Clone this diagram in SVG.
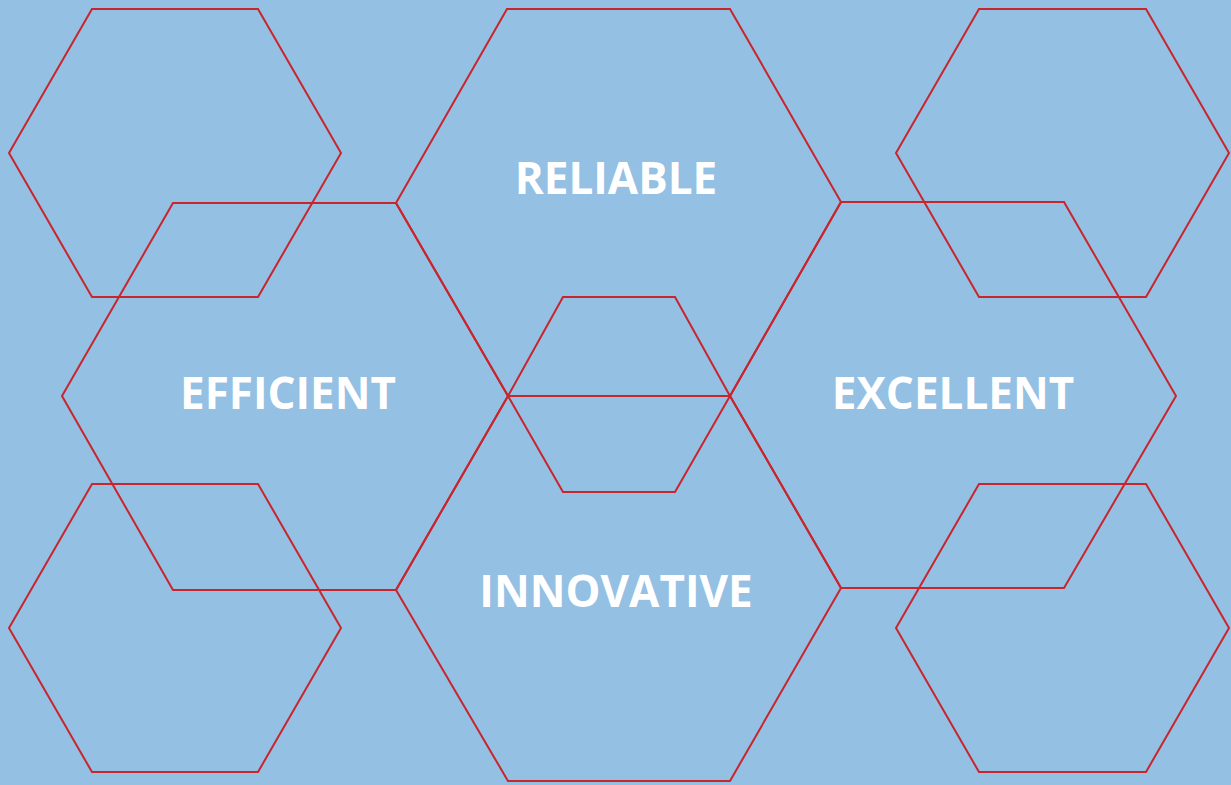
<svg xmlns="http://www.w3.org/2000/svg" width="1231" height="785" viewBox="0 0 1231 785">
<style>
.hex{fill:none;stroke:#C8252C;stroke-width:2;stroke-linejoin:miter}
.lbl{font-family:"Open Sans","Liberation Sans",sans-serif;font-weight:bold;font-size:44px;fill:#FFFFFF;text-anchor:middle}
</style>
<rect width="1231" height="785" fill="#94C0E3"/>
<g id="hex-top-left"><polygon class="hex" points="92,9 258,9 341,153 258,297 92,297 9,153"/></g>
<g id="hex-bottom-left"><polygon class="hex" points="92,484 258,484 341,628 258,772 92,772 9,628"/></g>
<g id="hex-top-right"><polygon class="hex" points="979,9 1146,9 1229,153 1146,297 979,297 896,153"/></g>
<g id="hex-bottom-right"><polygon class="hex" points="979,484 1146,484 1229,628 1146,772 979,772 896,628"/></g>
<g id="hex-center"><polygon class="hex" points="563,297 675,297 730,396 675,492 563,492 508,396"/></g>
<g id="efficient"><polygon class="hex" points="173,203 396,203 508,396 396,590 173,590 62,396"/><text class="lbl" x="288" y="409">EFFICIENT</text></g>
<g id="reliable"><polygon class="hex" points="507,9 730,9 841,202 730,396 508,396 396,203"/><text class="lbl" x="616" y="194">RELIABLE</text></g>
<g id="excellent"><polygon class="hex" points="841,202 1064,202 1176,396 1064,588 841,588 730,396"/><text class="lbl" x="953" y="409">EXCELLENT</text></g>
<g id="innovative"><polygon class="hex" points="508,396 730,396 841,588 730,781 508,781 396,590"/><text class="lbl" x="616" y="607">INNOVATIVE</text></g>
<g id="connectors"></g>
</svg>
